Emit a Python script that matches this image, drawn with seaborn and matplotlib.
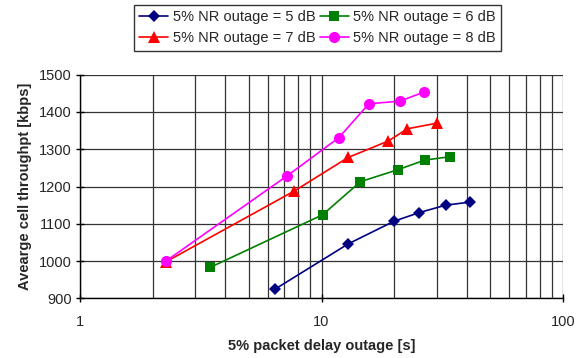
import numpy as np
import pandas as pd
import matplotlib
matplotlib.use("Agg")
import matplotlib.pyplot as plt
import matplotlib.ticker as mticker
import seaborn as sns

series_names = ["5% NR outage = 5 dB", "5% NR outage = 6 dB",
                "5% NR outage = 7 dB", "5% NR outage = 8 dB"]

x_5db = [6.4, 12.9, 20.0, 25.4, 32.7, 41.1]
y_5db = [924, 1046, 1107, 1130, 1150, 1158]

x_6db = [3.46, 10.1, 14.5, 20.7, 26.8, 34.2]
y_6db = [983, 1124, 1213, 1245, 1271, 1280]

x_7db = [2.27, 7.72, 12.9, 18.9, 22.7, 30.1]
y_7db = [998, 1188, 1278, 1322, 1355, 1370]

x_8db = [2.27, 7.22, 11.8, 15.7, 21.1, 26.5]
y_8db = [1000, 1229, 1331, 1422, 1429, 1453]

x_ticks = [1, 10, 100]
y_ticks = [900, 1000, 1100, 1200, 1300, 1400, 1500]

xs = [x_5db, x_6db, x_7db, x_8db]
ys = [y_5db, y_6db, y_7db, y_8db]
df = pd.concat([pd.DataFrame({"x": xv, "y": yv, "series": n})
                for n, xv, yv in zip(series_names, xs, ys)], ignore_index=True)

sns.set_theme(style="white")
plt.rcParams["font.family"] = ["Liberation Sans", "DejaVu Sans"]

FS = 10.5

fig = plt.figure(figsize=(5.76, 3.58), dpi=100)
ax = fig.add_axes([80/576, 1 - 298.3/358, (563-80)/576, (298.3-74.7)/358])

colors = {series_names[0]: "#000080", series_names[1]: "#008000",
          series_names[2]: "#FF0000", series_names[3]: "#FF00FF"}
markers = {series_names[0]: "D", series_names[1]: "s",
           series_names[2]: "^", series_names[3]: "o"}
sizes_m = {series_names[0]: 6.5, series_names[1]: 7.5,
           series_names[2]: 8, series_names[3]: 8}

sns.lineplot(data=df, x="x", y="y", hue="series", style="series",
             palette=colors, markers=markers, dashes=False, sort=False,
             linewidth=1.2, markeredgewidth=0, ax=ax, legend=False,
             zorder=3)
for line, n in zip(ax.lines, series_names):
    line.set_markersize(sizes_m[n])

ax.set_xscale("log")
ax.set_xlim(1, 100)
ax.set_ylim(900, 1500)
ax.xaxis.set_major_locator(mticker.FixedLocator(x_ticks))
ax.xaxis.set_major_formatter(mticker.FixedFormatter([str(t) for t in x_ticks]))
ax.xaxis.set_minor_locator(mticker.LogLocator(base=10, subs=np.arange(2, 10)))
ax.xaxis.set_minor_formatter(mticker.NullFormatter())
ax.set_yticks(y_ticks)

ax.grid(True, which="major", axis="both", color="#333333", linewidth=0.9)
ax.grid(True, which="minor", axis="x", color="#333333", linewidth=0.9)

for s in ["top", "right"]:
    ax.spines[s].set_visible(False)
for s in ["left", "bottom"]:
    ax.spines[s].set_color("black")
    ax.spines[s].set_linewidth(1.0)

ax.tick_params(axis="both", which="major", direction="inout", length=6,
               width=1, color="black", labelsize=FS,
               bottom=True, left=True)
ax.tick_params(axis="y", which="major", pad=3)
ax.tick_params(axis="x", which="major", pad=9)
ax.tick_params(axis="x", which="minor", length=0)

ax.set_xlabel("5% packet delay outage [s]", fontsize=FS, fontweight="bold", labelpad=7)
ax.set_ylabel("Avearge cell throughpt [kbps]", fontsize=FS, fontweight="bold", labelpad=5)

order = [0, 2, 1, 3]
handles = [ax.lines[i] for i in order]
labels = [series_names[i] for i in order]
leg = fig.legend(handles, labels, ncol=2, loc="upper left",
                 bbox_to_anchor=(134/576, 1 - 5/358), fontsize=FS,
                 frameon=True, fancybox=False, edgecolor="black",
                 handlelength=2.0, handletextpad=0.3, columnspacing=0.3,
                 labelspacing=0.5, borderpad=0.35, borderaxespad=0)
leg.get_frame().set_linewidth(1.0)

fig.savefig("out.png", dpi=100, facecolor="white")
